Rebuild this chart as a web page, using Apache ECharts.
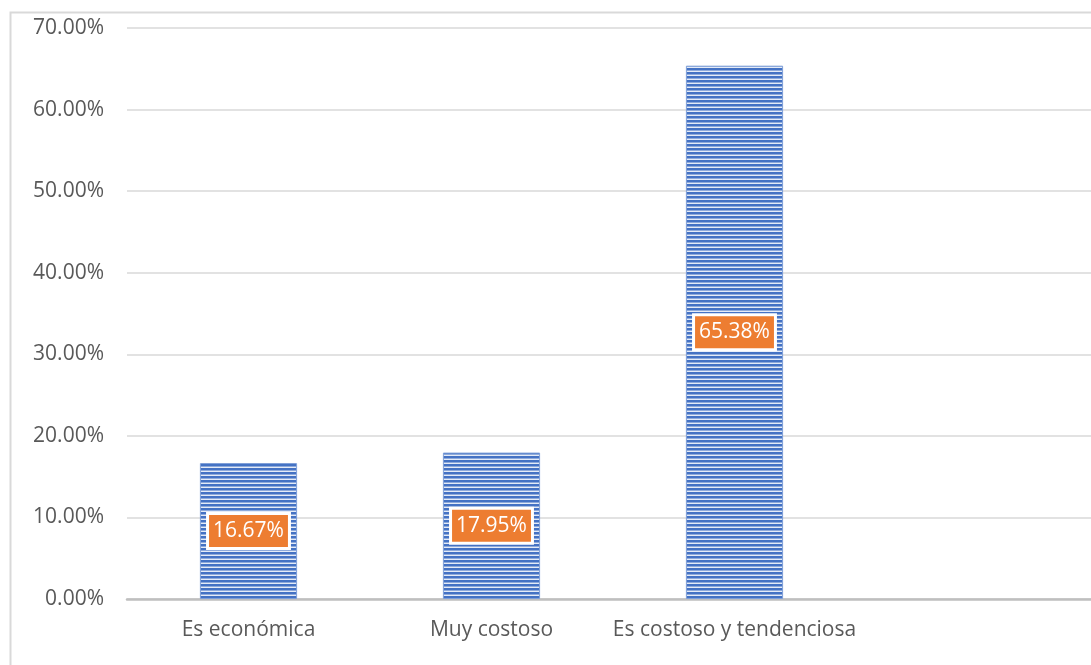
<!DOCTYPE html>
<html>
<head>
<meta charset="utf-8">
<script src="https://cdn.jsdelivr.net/npm/echarts@6/dist/echarts.min.js"></script>
<style>
  html, body { margin: 0; padding: 0; background: #fff; }
  #main { width: 1091px; height: 665px; }
</style>
</head>
<body>
<div id="main"></div>
<script>
// data
var categories = ['Es económica', 'Muy costoso', 'Es costoso y tendenciosa', ''];
var values = [16.67, 17.95, 65.38, null];
var yTicks = [0, 10, 20, 30, 40, 50, 60, 70];

// striped fill like the original bars
function makeStripes() {
  var c = document.createElement('canvas');
  c.width = 4; c.height = 4;
  var ctx = c.getContext('2d');
  ctx.fillStyle = '#4472c4';
  ctx.fillRect(0, 0, 4, 2);
  ctx.fillStyle = '#8eaadb';
  ctx.fillRect(0, 2, 4, 1);
  ctx.fillStyle = '#e4ebf7';
  ctx.fillRect(0, 3, 4, 1);
  return c;
}

var myChart = echarts.init(document.getElementById('main'));
myChart.setOption({
  animation: false,
  textStyle: { fontFamily: '"Open Sans", "Liberation Sans", sans-serif' },
  graphic: [{
    type: 'rect',
    shape: { x: 10.5, y: 12.5, width: 1200, height: 700 },
    style: { fill: 'none', stroke: '#d9d9d9', lineWidth: 2 },
    silent: true
  }],
  grid: { left: 127, top: 28, width: 972, bottom: 66, outerBoundsMode: 'none' },
  xAxis: {
    type: 'category',
    data: categories,
    axisLine: { lineStyle: { color: '#bfbfbf', width: 2.5 } },
    axisTick: { show: false },
    axisLabel: { color: '#595959', fontSize: 21, margin: 21, interval: 0 }
  },
  yAxis: {
    type: 'value',
    min: 0, max: 70, interval: 10,
    axisLine: { show: false },
    axisTick: { show: false },
    splitLine: { lineStyle: { color: '#d9d9d9', width: 1.5 } },
    axisLabel: {
      color: '#595959', fontSize: 21, margin: 23,
      formatter: function (v) { return yTicks.indexOf(v) >= 0 ? v.toFixed(2) + '%' : ''; }
    }
  },
  series: [{
    type: 'bar',
    data: values,
    barWidth: '40%',
    itemStyle: {
      color: { image: makeStripes(), repeat: 'repeat' },
      borderColor: '#7f9fd8',
      borderWidth: 1
    },
    label: {
      show: true,
      position: 'inside',
      formatter: function (p) { return p.value.toFixed(2) + '%'; },
      color: '#fff',
      fontSize: 21,
      backgroundColor: '#ed7d31',
      borderColor: '#fff',
      borderWidth: 3,
      padding: [7, 4, 4, 4]
    }
  }]
});
</script>
</body>
</html>
